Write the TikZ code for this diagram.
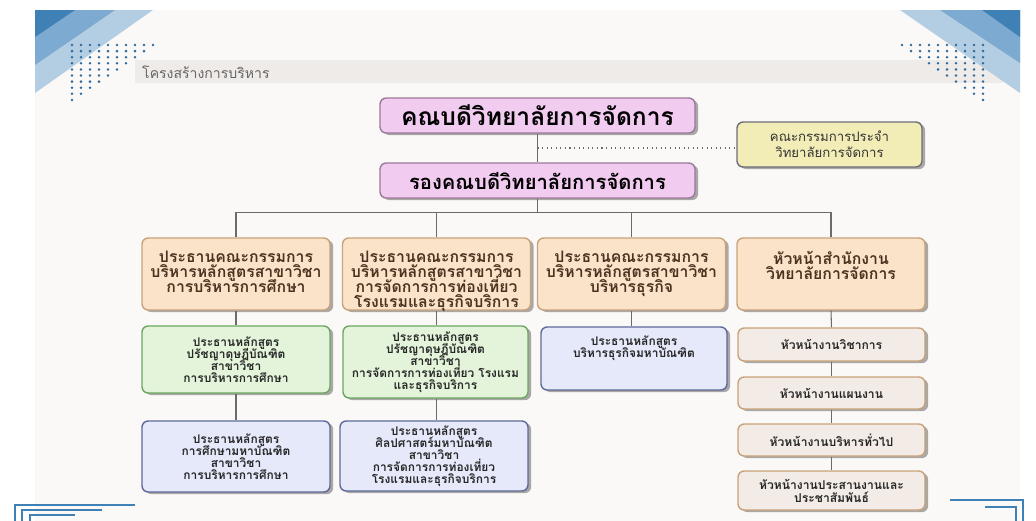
\documentclass[tikz,border=0pt]{standalone}
\usepackage{fontspec}
\newfontfamily\thai[Script=Thai]{Loma}
\usetikzlibrary{positioning, calc, shadows}
\lineskiplimit=-20pt
\normallineskiplimit=-20pt
\definecolor{panel}{HTML}{FBF9F7}
\definecolor{band}{HTML}{EFEBE9}
\definecolor{tridark}{HTML}{3F80B5}
\definecolor{trimid}{HTML}{7DAAD0}
\definecolor{trilight}{HTML}{B3CDE2}
\definecolor{dotblue}{HTML}{2F6B9C}
\definecolor{deanfill}{HTML}{F2CBF0}
\definecolor{deanline}{HTML}{9A7A9A}
\definecolor{boardfill}{HTML}{FBE3C9}
\definecolor{boardline}{HTML}{C9A27A}
\definecolor{boardtext}{HTML}{4A3320}
\definecolor{phdfill}{HTML}{E3F4DA}
\definecolor{phdline}{HTML}{6BA85F}
\definecolor{mastfill}{HTML}{E6E9FA}
\definecolor{mastline}{HTML}{5E6A9A}
\definecolor{officefill}{HTML}{F3ECE6}
\definecolor{comfill}{HTML}{F2ECB6}
\definecolor{comline}{HTML}{6E6E78}
\definecolor{wire}{HTML}{6B6B6B}
\tikzset{
  every node/.style={font=\thai},
  box/.style={draw, rounded corners=3.5pt, align=center, inner sep=0pt, line width=0.8pt,
    drop shadow={shadow xshift=1.8pt, shadow yshift=-1.2pt, fill=black!65}},
  deanbox/.style={box, fill=deanfill, draw=deanline, minimum width=6.3cm, minimum height=0.7cm},
  combox/.style={box, fill=comfill, draw=comline, minimum width=3.7cm, minimum height=0.9cm,
    drop shadow={shadow xshift=0.8pt, shadow yshift=-0.8pt, fill=black!30},
    font=\thai\fontsize{7.5}{9}\selectfont, text=black!80},
  boardbox/.style={box, fill=boardfill, draw=boardline, minimum width=3.76cm, minimum height=1.44cm,
    font=\thai\bfseries\fontsize{9}{8.6}\selectfont, text=boardtext},
  phdbox/.style={box, fill=phdfill, draw=phdline, minimum width=3.76cm,
    font=\thai\bfseries\fontsize{6.8}{6.9}\selectfont, text=black!85},
  mastbox/.style={box, fill=mastfill, draw=mastline, minimum width=3.76cm,
    font=\thai\bfseries\fontsize{6.8}{6.8}\selectfont, text=black!85},
  officebox/.style={box, fill=officefill, draw=boardline, minimum width=3.74cm,
    font=\thai\bfseries\fontsize{6.9}{7.4}\selectfont, text=black!85},
  wire/.style={draw=wire, line width=0.6pt},
  frame/.style={draw=tridark, line width=0.7pt},
}
\begin{document}
\begin{tikzpicture}[x=0.02cm, y=-0.02cm]
  \useasboundingbox (0,0) rectangle (1036,521);
  % backdrop
  \fill[white] (0,0) rectangle (1036,521);
  \fill[panel] (35,10) rectangle (1020,521);
  \fill[band] (135,60) rectangle (1003,83);
  \fill[trilight] (35,10) -- (153,10) -- (35,93) -- cycle;
  \fill[trimid] (35,10) -- (115,10) -- (35,65) -- cycle;
  \fill[tridark] (35,10) -- (75,10) -- (35,37) -- cycle;
  \fill[trilight] (1020,10) -- (900,10) -- (1020,93) -- cycle;
  \fill[trimid] (1020,10) -- (940,10) -- (1020,63) -- cycle;
  \fill[tridark] (1020,10) -- (982,10) -- (1020,37) -- cycle;
  \foreach \r in {0,...,9} {
    \pgfmathtruncatemacro{\last}{9-\r}
    \foreach \c in {0,...,\last} {
      \fill[dotblue] (72+9*\c,45+6.1*\r) circle (1.4);
      \fill[dotblue] (983-9*\c,45+6.1*\r) circle (1.4);
    }
  }
  \draw[frame] (135,505) -- (15,505) -- (15,521);
  \draw[frame] (102,510) -- (22,510) -- (22,521);
  \draw[frame] (75,515) -- (30,515) -- (30,521);
  \draw[frame] (950,500) -- (1023,500) -- (1023,521);
  \draw[frame] (985,507) -- (1016,507) -- (1016,521);

  \node[anchor=west, font=\thai\fontsize{8}{9}\selectfont, text=black!60] (heading) at (136,72) {โครงสร้างการบริหาร};

  % top of the chart
  \node[deanbox, font=\thai\bfseries\fontsize{14}{16}\selectfont] (dean) at (537.5,115.5) {คณบดีวิทยาลัยการจัดการ};
  \node[deanbox, font=\thai\bfseries\fontsize{11.5}{13}\selectfont] (vice) at (537.5,180.5) {รองคณบดีวิทยาลัยการจัดการ};
  \node[combox] (committee) at (829.5,144.5) {คณะกรรมการประจำ\\วิทยาลัยการจัดการ};

  % programme boards
  \node[boardbox] (boardA) at (236,274) {\parbox[c][0.92cm][t]{3.6cm}{\centering ประธานคณะกรรมการ\\บริหารหลักสูตรสาขาวิชา\\การบริหารการศึกษา}};
  \node[boardbox] (boardB) at (436.5,274) {\parbox[c][0.92cm][t]{3.6cm}{\centering ประธานคณะกรรมการ\\บริหารหลักสูตรสาขาวิชา\\การจัดการการท่องเที่ยว\\โรงแรมและธุรกิจบริการ}};
  \node[boardbox] (boardC) at (631.5,274) {\parbox[c][0.92cm][t]{3.6cm}{\centering ประธานคณะกรรมการ\\บริหารหลักสูตรสาขาวิชา\\บริหารธุรกิจ}};
  \node[boardbox] (office) at (831,274) {\parbox[c][0.92cm][t]{3.6cm}{\centering หัวหน้าสำนักงาน\\วิทยาลัยการจัดการ}};

  % programme chairs
  \node[phdbox, minimum height=1.34cm] (phdA) at (236,359.5) {ประธานหลักสูตร\\ปรัชญาดุษฎีบัณฑิต\\สาขาวิชา\\การบริหารการศึกษา};
  \node[phdbox, minimum width=3.7cm, minimum height=1.44cm] (phdB) at (435.5,362) {ประธานหลักสูตร\\ปรัชญาดุษฎีบัณฑิต\\สาขาวิชา\\การจัดการการท่องเที่ยว โรงแรม\\และธุรกิจบริการ};
  \node[mastbox, minimum width=3.72cm, minimum height=1.26cm] (mbaC) at (634,358.5) {\parbox[c][0.9cm][t]{3.6cm}{\centering ประธานหลักสูตร\\บริหารธุรกิจมหาบัณฑิต}};
  \node[mastbox, minimum height=1.42cm] (mastA) at (236,456.5) {ประธานหลักสูตร\\การศึกษามหาบัณฑิต\\สาขาวิชา\\การบริหารการศึกษา};
  \node[mastbox, minimum height=1.40cm] (mastB) at (434,456) {ประธานหลักสูตร\\ศิลปศาสตร์มหาบัณฑิต\\สาขาวิชา\\การจัดการการท่องเที่ยว\\โรงแรมและธุรกิจบริการ};

  % office sections
  \node[officebox, minimum height=0.66cm] (academic) at (831.5,344.5) {หัวหน้างานวิชาการ};
  \node[officebox, minimum height=0.64cm] (planning) at (831.5,393) {หัวหน้างานแผนงาน};
  \node[officebox, minimum height=0.64cm] (general) at (831.5,440) {หัวหน้างานบริหารทั่วไป};
  \node[officebox, minimum height=0.78cm] (liaison) at (831.5,490.5) {หัวหน้างานประสานงานและ\\ประชาสัมพันธ์};

  % connectors
  \draw[wire] (dean.south) -- (vice.north);
  \coordinate (mid) at ($(dean.south)!0.5!(vice.north)$);
  \draw[wire, dotted, line width=0.8pt] (mid) -- (mid -| committee.west);
  \draw[wire] (vice.south) -- ++(0,14) coordinate (bus);
  \draw[wire] (boardA.north) |- (bus) -| (office.north);
  \draw[wire] (boardB.north) -- (boardB.north |- bus);
  \draw[wire] (boardC.north) -- (boardC.north |- bus);
  \draw[wire] (boardA.south) -- (phdA.north);
  \draw[wire] (phdA.south) -- (mastA.north);
  \draw[wire] (boardB.south) -- (boardB.south |- phdB.north);
  \draw[wire] (boardB.south |- phdB.south) -- (boardB.south |- mastB.north);
  \draw[wire] (boardC.south) -- (boardC.south |- mbaC.north);
  \draw[wire] (office.south) -- (academic.north);
  \draw[wire] (academic.south) -- (planning.north);
  \draw[wire] (planning.south) -- (general.north);
  \draw[wire] (general.south) -- (liaison.north);
\end{tikzpicture}
\end{document}
